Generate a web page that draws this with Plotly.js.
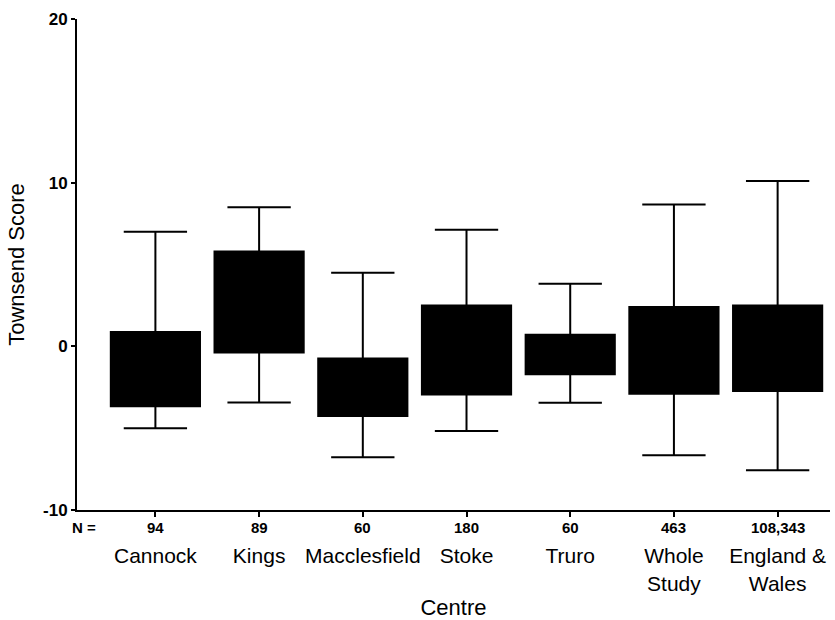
<!DOCTYPE html>
<html>
<head>
<meta charset="utf-8">
<script src="https://cdn.plot.ly/plotly-3.0.1.min.js"></script>
<style>html,body{margin:0;padding:0;background:#fff;}#chart{width:835px;height:620px;}</style>
</head>
<body>
<div id="chart"></div>
<script>
const categories = ["Cannock", "Kings", "Macclesfield", "Stoke", "Truro", "Whole Study", "England & Wales"];
const tickLabels = ["Cannock", "Kings", "Macclesfield", "Stoke", "Truro", "Whole<br>Study", "England &<br>Wales"];
const nLabels = ["94", "89", "60", "180", "60", "463", "108,343"];
const lowerWhisker = [-5.0, -3.43, -6.78, -5.17, -3.44, -6.66, -7.57];
const q1 = [-3.66, -0.38, -4.25, -2.95, -1.71, -2.89, -2.73];
const median = [-1.5, 2.5, -2.5, -0.5, -0.5, -0.4, -0.3];
const q3 = [0.88, 5.8, -0.74, 2.5, 0.71, 2.4, 2.5];
const upperWhisker = [7.0, 8.5, 4.5, 7.13, 3.83, 8.66, 10.1];

const FONT = "Liberation Sans, Arial, Helvetica, sans-serif";

const trace = {
  type: "box",
  x: categories,
  q1: q1,
  median: median,
  q3: q3,
  lowerfence: lowerWhisker,
  upperfence: upperWhisker,
  width: 0.86,
  whiskerwidth: 0.71,
  fillcolor: "#000000",
  line: {color: "#000000", width: 2},
  boxpoints: false,
  hoverinfo: "skip",
  showlegend: false
};

const nFont = {family: FONT, size: 15, color: "#000", weight: "bold"};
const annotations = nLabels.map((n, i) => ({
  x: categories[i], xref: "x",
  y: -0.035, yref: "paper",
  text: n, showarrow: false,
  xanchor: "center", yanchor: "middle",
  font: nFont
}));
annotations.push({
  x: (84 - 77) / 753, xref: "paper", xanchor: "center",
  y: -0.035, yref: "paper", yanchor: "middle",
  text: "N =", showarrow: false,
  font: nFont
});

const layout = {
  width: 835, height: 620,
  margin: {l: 77, r: 5, t: 19, b: 110},
  paper_bgcolor: "#ffffff",
  plot_bgcolor: "#ffffff",
  font: {family: FONT, color: "#000"},
  xaxis: {
    type: "category",
    categoryorder: "array",
    categoryarray: categories,
    tickvals: categories,
    ticktext: tickLabels,
    range: [-0.756, 6.505],
    showline: true, linecolor: "#000", linewidth: 2,
    ticks: "outside", ticklen: 5, tickwidth: 2, tickcolor: "#000",
    showgrid: false, zeroline: false,
    tickfont: {family: FONT, size: 21, color: "#000"},
    ticklabelstandoff: 21,
    title: {text: "Centre", font: {family: FONT, size: 22, color: "#000"}, standoff: 6},
    automargin: false
  },
  yaxis: {
    range: [-10, 20],
    tickvals: [-10, 0, 10, 20],
    ticktext: ["-10", "0", "10", "20"],
    showline: true, linecolor: "#000", linewidth: 2,
    ticks: "outside", ticklen: 4, tickwidth: 2, tickcolor: "#000",
    showgrid: false, zeroline: false,
    tickfont: {family: FONT, size: 17, color: "#000", weight: "bold"},
    title: {text: "Townsend Score", font: {family: FONT, size: 22, color: "#000"}, standoff: 12},
    automargin: false
  },
  annotations: annotations
};

Plotly.newPlot("chart", [trace], layout, {displayModeBar: false, staticPlot: true});
</script>
</body>
</html>
